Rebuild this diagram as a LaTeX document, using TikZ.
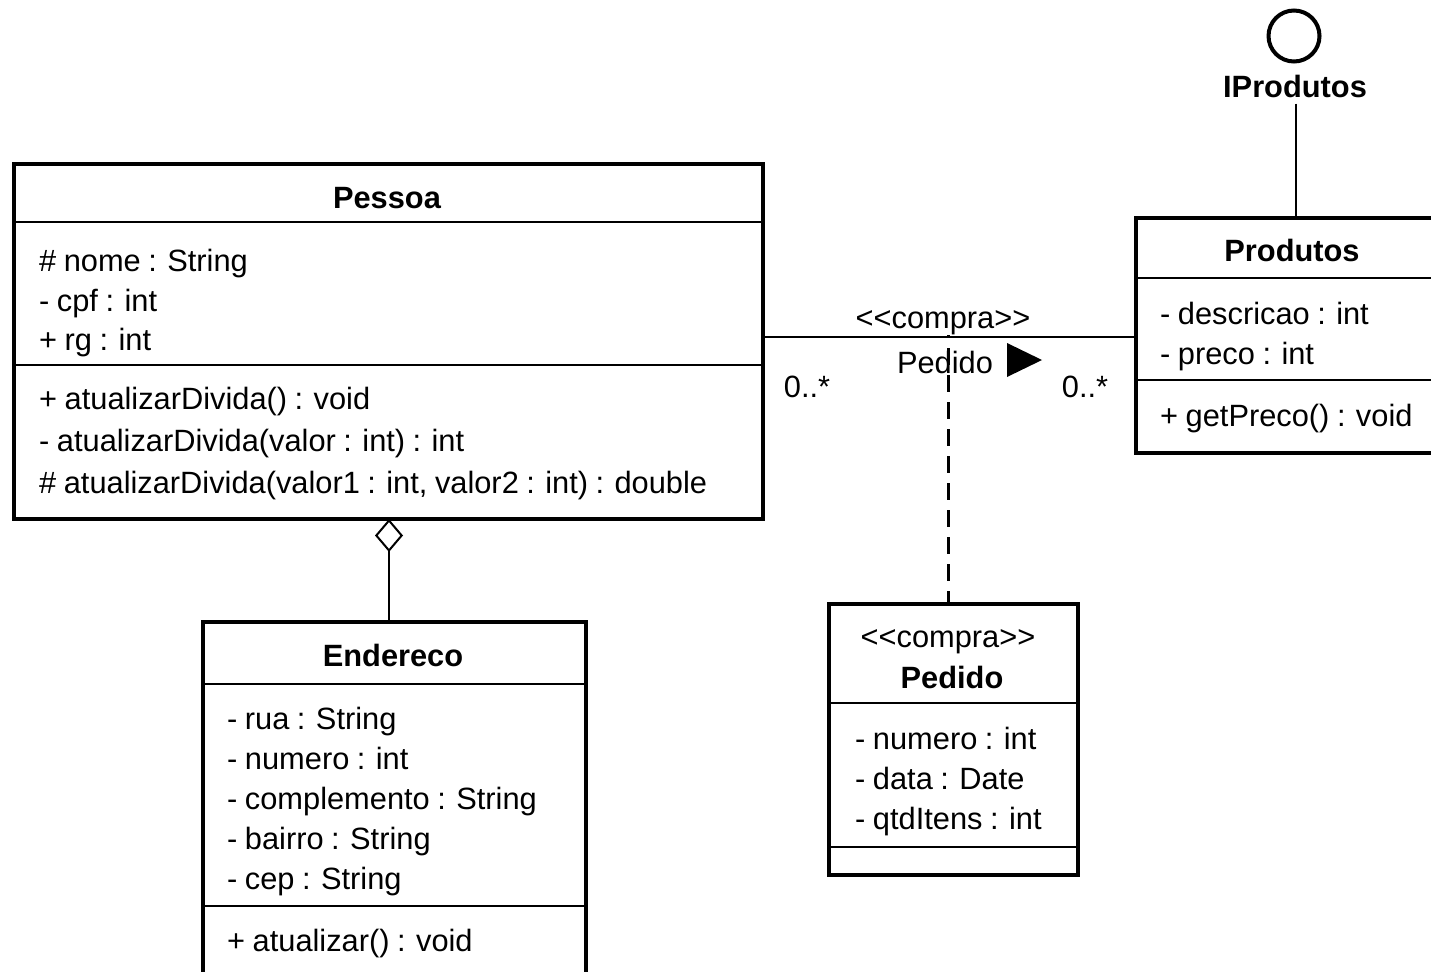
\documentclass[tikz,border=0pt]{standalone}
\usepackage{fontspec}
\setmainfont[WordSpace=0.88]{Liberation Sans}
\usetikzlibrary{arrows.meta}
\begin{document}
\begin{tikzpicture}[x=1pt,y=-1pt,
  classbox/.style={draw,line width=4pt,inner sep=0pt,anchor=north west},
  sepline/.style={line width=2pt},
  conn/.style={line width=2pt},
  member/.style={anchor=base west,inner sep=0pt,font=\fontsize{30.8}{37}\selectfont},
  cname/.style={anchor=base,inner sep=0pt,font=\fontsize{30.8}{37}\selectfont\bfseries},
  lbl/.style={anchor=base,inner sep=0pt,font=\fontsize{30.8}{37}\selectfont},
]
\useasboundingbox (0,0) rectangle (1431,971);
\clip (0,0) rectangle (1431,971);

% ---- class Pessoa ----
\node[classbox,minimum width=749pt,minimum height=355pt] (pessoa) at (12,162) {};
\draw[sepline] (12,222) -- (761,222);
\draw[sepline] (12,365) -- (761,365);
\node[cname] (pessoaT) at (387,208) {Pessoa};
\node[member] (pa1) at (39,271) {\# nome : String};
\node[member] (pa2) at (39,311) {- cpf : int};
\node[member] (pa3) at (39,350) {+ rg : int};
\node[member] (pm1) at (39,409) {+ atualizarDivida() : void};
\node[member] (pm2) at (39,451) {- atualizarDivida(valor : int) : int};
\node[member] (pm3) at (39,493) {\# atualizarDivida(valor1 : int, valor2 : int) : double};

% ---- class Produtos ----
\node[classbox,minimum width=320pt,minimum height=235pt] (produtos) at (1134,216) {};
\draw[sepline] (1134,278) -- (1454,278);
\draw[sepline] (1134,380) -- (1454,380);
\node[cname] (produtosT) at (1292,261) {Produtos};
\node[member] (ra1) at (1160,324) {- descricao : int};
\node[member] (ra2) at (1160,364) {- preco : int};
\node[member] (rm1) at (1160,426) {+ getPreco() : void};

% ---- interface IProdutos ----
\node[draw,circle,line width=4pt,minimum size=51pt,inner sep=0pt] (iface) at (1294,36) {};
\node[cname] (ifaceT) at (1295,98) {IProdutos};
\draw[conn] ([yshift=-5pt]ifaceT.south -| produtos.north) -- (produtos.north);

% ---- class Endereco ----
\node[classbox,minimum width=383pt,minimum height=400pt] (endereco) at (201,620) {};
\draw[sepline] (201,684) -- (584,684);
\draw[sepline] (201,906) -- (584,906);
\node[cname] (enderecoT) at (393,666) {Endereco};
\node[member] (ea1) at (227,729) {- rua : String};
\node[member] (ea2) at (227,769) {- numero : int};
\node[member] (ea3) at (227,809) {- complemento : String};
\node[member] (ea4) at (227,849) {- bairro : String};
\node[member] (ea5) at (227,889) {- cep : String};
\node[member] (em1) at (227,951) {+ atualizar() : void};

% ---- association class Pedido ----
\node[classbox,minimum width=249pt,minimum height=271pt] (pedido) at (827,602) {};
\draw[sepline] (827,703) -- (1076,703);
\draw[sepline] (827,847) -- (1076,847);
\node[lbl] (pedidoS) at (948,647) {<{}<compra>{}>};
\node[cname] (pedidoT) at (952,688) {Pedido};
\node[member] (da1) at (855,749) {- numero : int};
\node[member] (da2) at (855,789) {- data : Date};
\node[member] (da3) at (855,829) {- qtdItens : int};

% ---- association Pessoa -- Produtos ----
\draw[conn] ([yshift=4.5pt]pessoa.east) coordinate (assocL) -- (assocL -| produtos.west);
\node[lbl] (assocS) at (943,328) {<{}<compra>{}>};
\node[lbl] (assocN) at (945,373) {Pedido};
\fill (1007,343) -- (1042,360) -- (1007,377) -- cycle;
\node[lbl] (multL) at (807,397) {0..*};
\node[lbl] (multR) at (1085,397) {0..*};
\coordinate (assocM) at (948,335);
\draw[line width=3pt,dash pattern=on 17pt off 10pt,dash phase=14pt] (assocM) -- (assocM |- pedido.north);

% ---- aggregation Pessoa <>-- Endereco ----
\coordinate (aggTop) at (389,519);
\draw[conn,{Diamond[open,length=33pt,width=28pt]}-] (aggTop) -- (aggTop |- endereco.north);
\end{tikzpicture}
\end{document}
